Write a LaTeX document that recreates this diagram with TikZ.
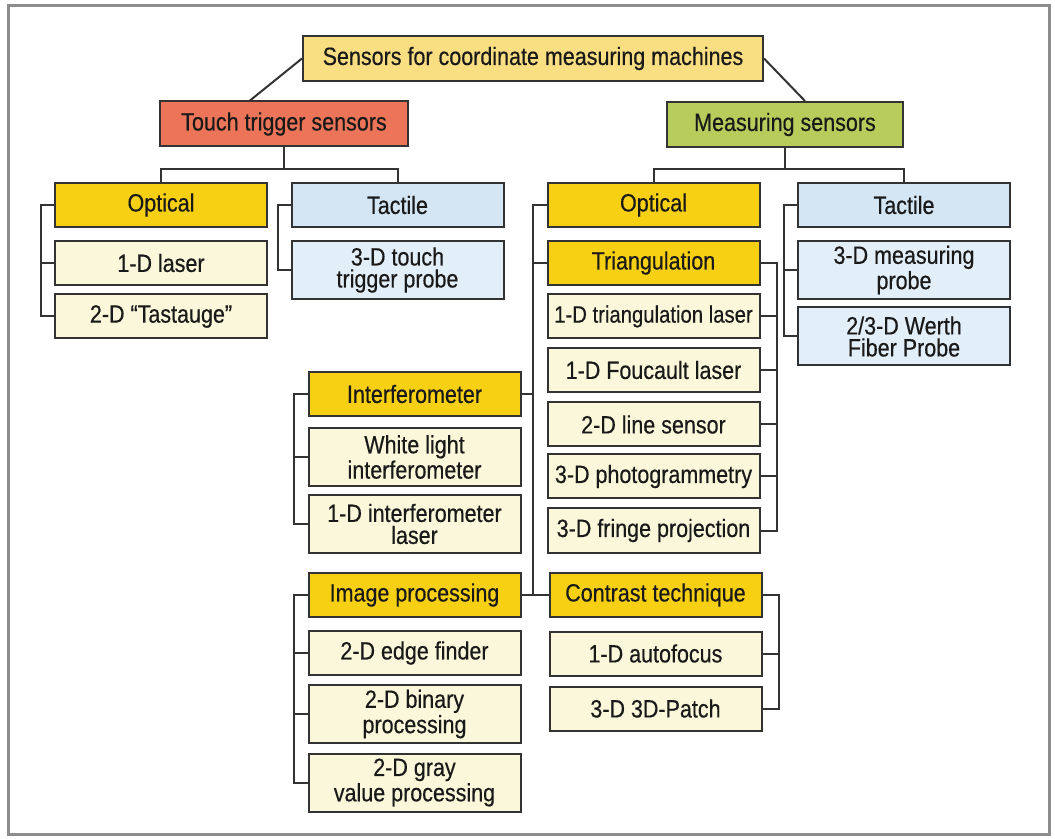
\documentclass[tikz,border=0pt]{standalone}
\usepackage{fontspec}
\setmainfont{Liberation Sans}[FakeStretch=0.86,FakeBold=0.4]
\usepackage{tikz}

\definecolor{topcol}{RGB}{249,222,130}
\definecolor{touchcol}{RGB}{236,116,88}
\definecolor{meascol}{RGB}{184,204,92}
\definecolor{optcol}{RGB}{247,208,20}
\definecolor{taccol}{RGB}{212,230,244}
\definecolor{leafcol}{RGB}{251,247,218}
\definecolor{tleafcol}{RGB}{226,238,248}

\begin{document}
\begin{tikzpicture}
        [%%%%%%%%%%%%%%%%%%%%%%%%%%%%%%
        x=0.5pt,y=-0.5pt,
        box/.style={draw=black!80, line width=1pt, minimum width=106pt, minimum height=22pt,
          inner xsep=1pt, inner ysep=0pt, align=center, text=black!90,
          font=\fontsize{12.5}{11}\selectfont},
        tall/.style={box, minimum height=29pt},
        opt/.style={box, fill=optcol},
        leaf/.style={box, fill=leafcol},
        tleaf/.style={tall, fill=tleafcol},
        link/.style={draw=black!80, line width=1pt},
        ]%%%%%%%%%%%%%%%%%%%%%%%%%%%%%%
        % Frame
        \useasboundingbox (0,0) rectangle (1055,839);
        \draw[black!45, line width=1.5pt] (8,6) rectangle (1049,834);
        % Top levels
        \node[box, fill=topcol, minimum width=230pt, minimum height=22.5pt] (top) at (533,58.5) {Sensors for coordinate measuring machines};
        \node[box, fill=touchcol, minimum width=124pt, minimum height=22.5pt] (touch) at (284,124) {Touch trigger sensors};
        \node[box, fill=meascol, minimum width=118pt, minimum height=22.5pt] (meas) at (785,124.5) {Measuring sensors};
        % LEFT BRANCH
        \node[opt] (optL) at (161,205) {Optical};
        \node[leaf] (laser) at (161,263) {1-D laser};
        \node[leaf] (tast) at (161,316.5) {2-D ``Tastauge''};
        \node[box, fill=taccol] (tacL) at (397.5,205) {Tactile};
        \node[tleaf] (trigger) at (397.5,270) {3-D touch\\trigger probe};
        % RIGHT BRANCH
        \node[opt] (optR) at (653.5,205) {Optical};
        \node[opt] (tri) at (653.5,263) {Triangulation};
        \node[leaf, font=\fontsize{11.8}{11}\selectfont] (trilaser) at (653.5,316.5) {1-D triangulation laser};
        \node[leaf] (fouc) at (653.5,370) {1-D Foucault laser};
        \node[leaf] (line) at (653.5,424.5) {2-D line sensor};
        \node[leaf] (photo) at (653.5,476.5) {3-D photogrammetry};
        \node[leaf] (fringe) at (653.5,530.5) {3-D fringe projection};
        \node[opt] (contrast) at (655.5,595) {Contrast technique};
        \node[leaf] (focus) at (655.5,653.5) {1-D autofocus};
        \node[leaf] (patch) at (655.5,708.5) {3-D 3D-Patch};
        \node[opt] (interf) at (414.5,394) {Interferometer};
        \node[leaf, tall] (white) at (414.5,457) {White light\\interferometer};
        \node[leaf, tall] (iflaser) at (414.5,524) {1-D interferometer\\laser};
        \node[opt] (image) at (414.5,595) {Image processing};
        \node[leaf] (edge) at (414.5,653) {2-D edge finder};
        \node[leaf, tall] (binary) at (414.5,714) {2-D binary\\processing};
        \node[leaf, tall] (gray) at (414.5,782.5) {2-D gray\\value processing};
        \node[box, fill=taccol] (tacR) at (904,205) {Tactile};
        \node[tleaf] (mprobe) at (904,270) {3-D measuring\\probe};
        \node[tleaf] (werth) at (904,336.5) {2/3-D Werth\\Fiber Probe};
        % Lines
        \draw[link] (top.west) -- ([xshift=-17pt]touch.north);
        \draw[link] (top.east) -- ([xshift=10pt]meas.north);
        \draw[link] (touch.south) -- ++(0,22) -| (optL.north);
        \draw[link] (touch.south) ++(0,22) -| (tacL.north);
        \draw[link] (meas.south) -- ++(0,21) -| (optR.north);
        \draw[link] (meas.south) ++(0,21) -| (tacR.north);
        % Brackets
        \draw[link] (optL.west) -- ++(-13,0) |- (tast.west);
        \draw[link] (laser.west) -- ++(-13,0);
        \draw[link] (tacL.west) -- ++(-13,0) |- (trigger.west);
        \draw[link] (tacR.west) -- ++(-13,0) |- (werth.west);
        \draw[link] (mprobe.west) -- ++(-13,0);
        \coordinate (spine) at (533,0);
        \draw[link] (optR.west) -- (optR.west -| spine) |- (contrast.west);
        \draw[link] (tri.west) -- (tri.west -| spine);
        \draw[link] (interf.east) -- (interf.east -| spine);
        \draw[link] (image.east) -- (contrast.west);
        \draw[link] (tri.east) -- ++(16,0) |- (fringe.east);
        \foreach \n in {trilaser,fouc,line,photo}
          \draw[link] (\n.east) -- ++(16,0);
        \draw[link] (contrast.east) -- ++(16,0) |- (patch.east);
        \draw[link] (focus.east) -- ++(16,0);
        \draw[link] (interf.west) -- ++(-14,0) |- (iflaser.west);
        \draw[link] (white.west) -- ++(-14,0);
        \draw[link] (image.west) -- ++(-14,0) |- (gray.west);
        \foreach \n in {edge,binary}
          \draw[link] (\n.west) -- ++(-14,0);
      \end{tikzpicture}
\end{document}
